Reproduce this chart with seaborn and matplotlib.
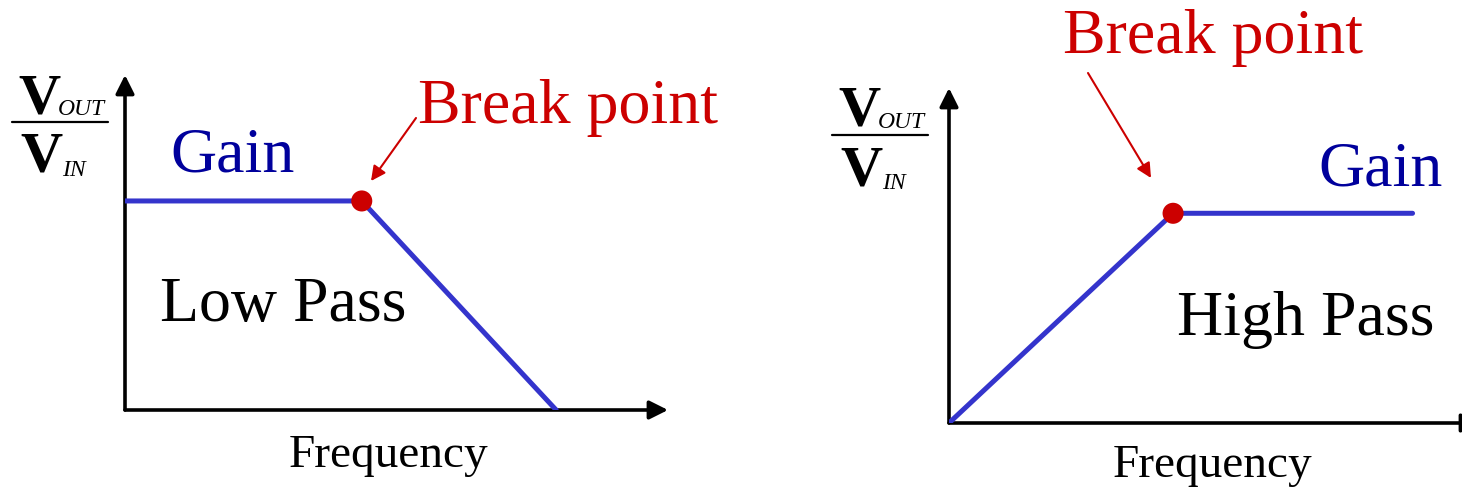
import matplotlib
matplotlib.use("Agg")
import matplotlib.pyplot as plt
import seaborn as sns

# Low pass response (frequency, gain) on a 0-10 sketch scale
low_freq = [0, 4.36, 7.94]
low_gain = [6.24, 6.24, 0]
# High pass response
high_freq = [0, 4.22, 8.73]
high_gain = [0, 6.26, 6.26]

# break point marks (index into the arrays above)
low_break = 1
high_break = 1

sns.set_style("white")
plt.rcParams["font.family"] = ["Liberation Serif", "DejaVu Serif"]
plt.rcParams["text.color"] = "black"

W, H = 1462, 488
fig = plt.figure(figsize=(W / 100, H / 100), dpi=100)

LINE_BLUE = "#3434cc"
TEXT_BLUE = "#00009c"
RED = "#cc0000"


def px(x, y):
    return x / W, 1 - y / H


def make_ax(left, bottom, right, top):
    ax = fig.add_axes([left / W, 1 - bottom / H, (right - left) / W, (bottom - top) / H])
    ax.set_xlim(0, 10)
    ax.set_ylim(0, 10)
    ax.axis("off")
    # hand drawn style axes with arrow heads
    for tip in [(0, 1), (1, 0)]:
        ax.annotate("", xy=tip, xytext=(0, 0), xycoords="axes fraction",
                    textcoords="axes fraction",
                    arrowprops=dict(arrowstyle="-|>", color="black", lw=2.6,
                                    mutation_scale=28, shrinkA=0, shrinkB=0),
                    annotation_clip=False, zorder=2)
    return ax


def ratio_label(x, y):
    # V_OUT / V_IN written as a stacked fraction
    fig.text(*px(x + 6, y), "V", fontsize=42, fontweight="bold", color="black",
             ha="left", va="baseline")
    fig.text(*px(x + 46, y + 2), "OUT", fontsize=17, fontstyle="italic", color="black",
             ha="left", va="baseline")
    fig.add_artist(plt.Line2D([x / W, (x + 96) / W], [1 - (y + 9) / H, 1 - (y + 9) / H],
                              color="black", lw=1.6))
    fig.text(*px(x + 8, y + 59), "V", fontsize=42, fontweight="bold", color="black",
             ha="left", va="baseline")
    fig.text(*px(x + 50, y + 63), "IN", fontsize=17, fontstyle="italic", color="black",
             ha="left", va="baseline")


# ---- low pass
ax1 = make_ax(125, 410, 668, 75)
sns.lineplot(x=low_freq, y=low_gain, ax=ax1, color=LINE_BLUE, linewidth=3.6, zorder=3)
sns.scatterplot(x=[low_freq[low_break]], y=[low_gain[low_break]], ax=ax1, color=RED,
                s=230, edgecolor="none", zorder=4)
fig.text(*px(418, 123), "Break point", fontsize=46, color=RED, ha="left", va="baseline")
ax1.annotate("", xy=px(371, 181), xytext=px(416, 118), xycoords="figure fraction",
             textcoords="figure fraction",
             arrowprops=dict(arrowstyle="-|>", color=RED, lw=1.5, mutation_scale=22,
                             shrinkA=0, shrinkB=0))
fig.text(*px(170, 172), "Gain", fontsize=46, color=TEXT_BLUE, ha="left", va="baseline")
fig.text(*px(160, 321), "Low Pass", fontsize=46, color="black", ha="left", va="baseline")
fig.text(*px(389, 467), "Frequency", fontsize=34, color="black", ha="center", va="baseline")
ratio_label(12, 113)

# ---- high pass
ax2 = make_ax(949, 423, 1480, 88)
sns.lineplot(x=high_freq, y=high_gain, ax=ax2, color=LINE_BLUE, linewidth=3.6, zorder=3)
sns.scatterplot(x=[high_freq[high_break]], y=[high_gain[high_break]], ax=ax2, color=RED,
                s=230, edgecolor="none", zorder=4)
fig.text(*px(1063, 53), "Break point", fontsize=46, color=RED, ha="left", va="baseline")
ax2.annotate("", xy=px(1151, 178), xytext=px(1088, 73), xycoords="figure fraction",
             textcoords="figure fraction",
             arrowprops=dict(arrowstyle="-|>", color=RED, lw=1.5, mutation_scale=22,
                             shrinkA=0, shrinkB=0))
fig.text(*px(1318, 185), "Gain", fontsize=46, color=TEXT_BLUE, ha="left", va="baseline")
fig.text(*px(1177, 335), "High Pass", fontsize=46, color="black", ha="left", va="baseline")
fig.text(*px(1213, 477), "Frequency", fontsize=34, color="black", ha="center", va="baseline")
ratio_label(832, 126)

fig.savefig("out.png", dpi=100)
